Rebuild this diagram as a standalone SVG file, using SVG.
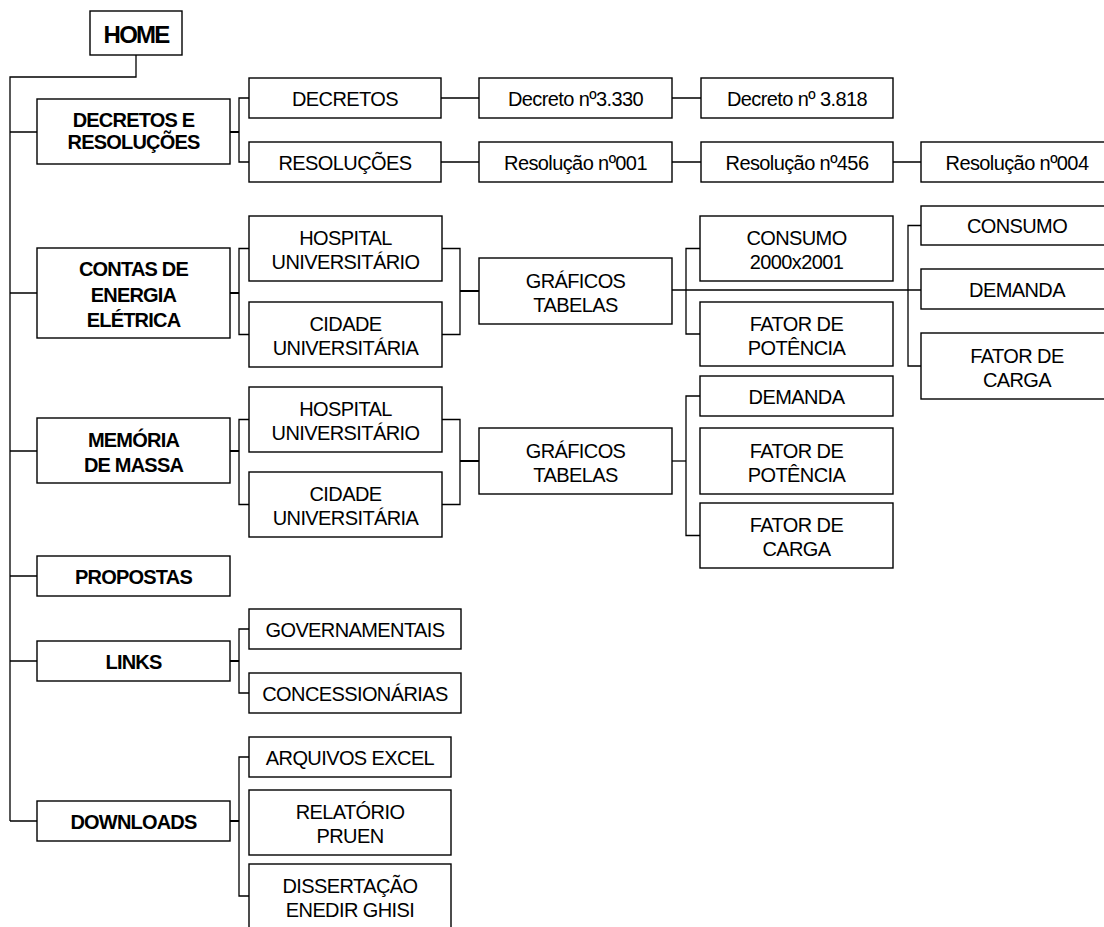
<svg xmlns="http://www.w3.org/2000/svg" width="1104" height="927" viewBox="0 0 1104 927">
<style>
.n rect{fill:#fff;stroke:#000;stroke-width:1.4}
.n text{font-family:"Liberation Sans",Arial,sans-serif;font-size:20px;letter-spacing:-0.6px;text-anchor:middle;fill:#000}
.n.b text{font-weight:bold;letter-spacing:-0.8px}
#conn path{fill:none;stroke:#000;stroke-width:1.3}
#conn path.s{stroke-width:2}
</style>
<rect width="1104" height="927" fill="#fff"/>
<g id="conn">
<path d="M136,55 V77 H10 V821"/>
<path d="M10,132 H37 M10,293 H37 M10,451 H37 M10,576 H37 M10,661 H37 M10,821 H37"/>
<path class="s" d="M230,132 H239 M230,293 H239 M230,451 H239 M230,661 H239 M230,821 H239"/>
<path d="M249,98 H239 V162 H249"/>
<path d="M441,98 H479 M672,98 H701 M441,162 H479 M672,162 H701 M893,162 H921"/>
<path d="M249,248.5 H239 V334.5 H249"/>
<path d="M442,248.5 H460 V334.5 H442"/>
<path class="s" d="M460,291 H479"/>
<path d="M672,290 H921"/>
<path d="M700,248.5 H686 V334 H700"/>
<path d="M921,225.5 H908 V366 H921"/>
<path d="M249,419.5 H239 V504.5 H249"/>
<path d="M442,419.5 H460 V504.5 H442"/>
<path class="s" d="M460,461 H479"/>
<path d="M672,461 H686"/>
<path d="M700,396 H686 V535.5 H700"/>
<path d="M249,629 H239 V693 H249"/>
<path d="M249,757 H239 V896 H249"/>
</g>
<g id="home" class="n b"><rect x="90" y="11" width="92" height="44"/><text x="136" y="43" style="font-size:24px;letter-spacing:-1.8px">HOME</text></g>
<g id="decretos-resolucoes" class="n b"><rect x="37" y="99" width="193" height="65"/><text x="133.5" y="126.5">DECRETOS E</text><text x="133.5" y="148.5">RESOLUÇÕES</text></g>
<g id="contas" class="n b"><rect x="37" y="248" width="193" height="90"/><text x="133.5" y="276">CONTAS DE</text><text x="133.5" y="301.5">ENERGIA</text><text x="133.5" y="327">ELÉTRICA</text></g>
<g id="memoria" class="n b"><rect x="37" y="418" width="193" height="65"/><text x="133.5" y="446.5">MEMÓRIA</text><text x="133.5" y="471.5">DE MASSA</text></g>
<g id="propostas" class="n b"><rect x="37" y="556" width="193" height="40"/><text x="133.5" y="583.5">PROPOSTAS</text></g>
<g id="links" class="n b"><rect x="37" y="641" width="193" height="40"/><text x="133.5" y="668.5">LINKS</text></g>
<g id="downloads" class="n b"><rect x="37" y="801" width="193" height="40"/><text x="133.5" y="828.5">DOWNLOADS</text></g>
<g id="decretos" class="n"><rect x="249" y="78" width="192" height="40"/><text x="345" y="105.5">DECRETOS</text></g>
<g id="resolucoes" class="n"><rect x="249" y="142" width="192" height="40"/><text x="345" y="169.5">RESOLUÇÕES</text></g>
<g id="decreto3330" class="n"><rect x="479" y="78" width="193" height="40"/><text x="575.5" y="105.5">Decreto nº3.330</text></g>
<g id="decreto3818" class="n"><rect x="701" y="78" width="192" height="40"/><text x="797" y="105.5">Decreto nº 3.818</text></g>
<g id="res001" class="n"><rect x="479" y="142" width="193" height="40"/><text x="575.5" y="169.5">Resolução nº001</text></g>
<g id="res456" class="n"><rect x="701" y="142" width="192" height="40"/><text x="797" y="169.5">Resolução nº456</text></g>
<g id="res004" class="n"><rect x="921" y="142" width="193" height="40"/><text x="1017" y="169.5">Resolução nº004</text></g>
<g id="hu1" class="n"><rect x="249" y="216" width="193" height="65"/><text x="345.5" y="245">HOSPITAL</text><text x="345.5" y="269">UNIVERSITÁRIO</text></g>
<g id="cu1" class="n"><rect x="249" y="302" width="193" height="65"/><text x="345.5" y="331">CIDADE</text><text x="345.5" y="355">UNIVERSITÁRIA</text></g>
<g id="gt1" class="n"><rect x="479" y="258" width="193" height="66"/><text x="575.5" y="287.5">GRÁFICOS</text><text x="575.5" y="311.5">TABELAS</text></g>
<g id="consumo2000" class="n"><rect x="700" y="216" width="193" height="65"/><text x="796.5" y="245">CONSUMO</text><text x="796.5" y="269">2000x2001</text></g>
<g id="fp1" class="n"><rect x="700" y="302" width="193" height="64"/><text x="796.5" y="330.5">FATOR DE</text><text x="796.5" y="354.5">POTÊNCIA</text></g>
<g id="consumo" class="n"><rect x="921" y="206" width="193" height="39"/><text x="1017" y="233">CONSUMO</text></g>
<g id="demanda1" class="n"><rect x="921" y="269" width="193" height="40"/><text x="1017" y="296.5">DEMANDA</text></g>
<g id="fc1" class="n"><rect x="921" y="333" width="193" height="66"/><text x="1017" y="362.5">FATOR DE</text><text x="1017" y="386.5">CARGA</text></g>
<g id="hu2" class="n"><rect x="249" y="387" width="193" height="65"/><text x="345.5" y="416">HOSPITAL</text><text x="345.5" y="440">UNIVERSITÁRIO</text></g>
<g id="cu2" class="n"><rect x="249" y="472" width="193" height="65"/><text x="345.5" y="501">CIDADE</text><text x="345.5" y="525">UNIVERSITÁRIA</text></g>
<g id="gt2" class="n"><rect x="479" y="428" width="193" height="66"/><text x="575.5" y="457.5">GRÁFICOS</text><text x="575.5" y="481.5">TABELAS</text></g>
<g id="demanda2" class="n"><rect x="700" y="376" width="193" height="40"/><text x="796.5" y="403.5">DEMANDA</text></g>
<g id="fp2" class="n"><rect x="700" y="428" width="193" height="66"/><text x="796.5" y="457.5">FATOR DE</text><text x="796.5" y="481.5">POTÊNCIA</text></g>
<g id="fc2" class="n"><rect x="700" y="503" width="193" height="65"/><text x="796.5" y="532">FATOR DE</text><text x="796.5" y="556">CARGA</text></g>
<g id="governamentais" class="n"><rect x="249" y="609" width="212" height="40"/><text x="355" y="636.5">GOVERNAMENTAIS</text></g>
<g id="concessionarias" class="n"><rect x="249" y="673" width="212" height="40"/><text x="355" y="700.5">CONCESSIONÁRIAS</text></g>
<g id="arquivos" class="n"><rect x="249" y="737" width="202" height="40"/><text x="350" y="764.5">ARQUIVOS EXCEL</text></g>
<g id="relatorio" class="n"><rect x="249" y="790" width="202" height="65"/><text x="350" y="819">RELATÓRIO</text><text x="350" y="843">PRUEN</text></g>
<g id="dissertacao" class="n"><rect x="249" y="864" width="202" height="65"/><text x="350" y="892.5">DISSERTAÇÃO</text><text x="350" y="916.5">ENEDIR GHISI</text></g>
</svg>
